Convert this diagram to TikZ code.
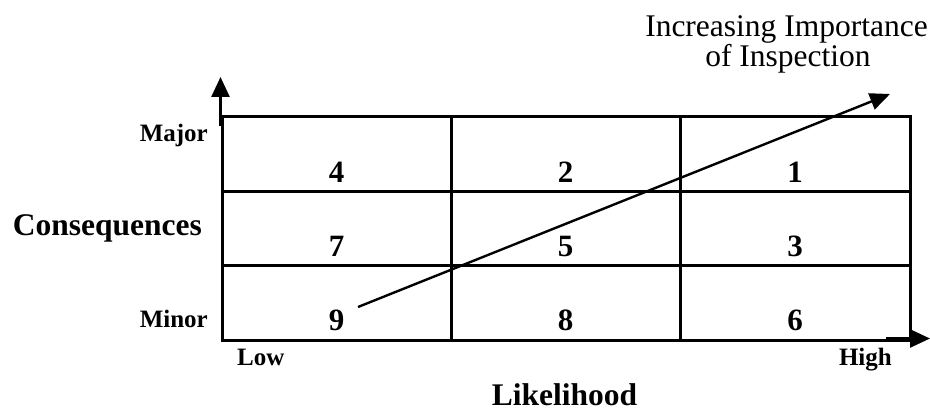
\documentclass[tikz,border=0pt]{standalone}
\usepackage{fontspec}
\setmainfont{Liberation Serif}
\usetikzlibrary{arrows.meta}
\tikzset{
  gridline/.style={line width=3pt},
  axisarrow/.style={line width=2.6pt,-{Triangle[length=20pt,width=18pt]}},
  diagarrow/.style={line width=2.4pt,-{Triangle[length=20pt,width=17pt]}},
  num/.style={anchor=base,inner sep=0pt,font=\fontsize{31}{34}\selectfont\bfseries},
  sidelbl/.style={inner sep=0pt,font=\fontsize{25}{30}\selectfont\bfseries},
  biglbl/.style={inner sep=0pt,font=\fontsize{31.5}{36}\selectfont\bfseries},
  toplbl/.style={anchor=base,inner sep=0pt,font=\fontsize{31.5}{34}\selectfont}
}
\begin{document}
\begin{tikzpicture}[x=1pt,y=-1pt]
\useasboundingbox (0,0) rectangle (930,412);
% grid
\draw[gridline] (222,116.5) rectangle (910,340);
\draw[gridline] (222,191) -- (910,191);
\draw[gridline] (222,265.5) -- (910,265.5);
\draw[gridline] (451,116.5) -- (451,340);
\draw[gridline] (680,116.5) -- (680,340);
% numbers
\node[num] (n4) at (336.5,182) {4};
\node[num] (n2) at (565.5,182) {2};
\node[num] (n1) at (795,182) {1};
\node[num] (n7) at (336.5,256) {7};
\node[num] (n5) at (565.5,256) {5};
\node[num] (n3) at (795,256) {3};
\node[num] (n9) at (336.5,330) {9};
\node[num] (n8) at (565.5,330) {8};
\node[num] (n6) at (795,330) {6};
% axes
\coordinate (ybot) at (220.5,126);
\coordinate (ytop) at (220.5,77);
\draw[axisarrow] (ybot) -- (ytop);
\coordinate (xleft) at (886,338.5);
\coordinate (xright) at (930,338.5);
\draw[axisarrow] (xleft) -- (xright);
% diagonal
\coordinate (dstart) at (358,307);
\coordinate (dend) at (890,94);
\draw[diagarrow] (dstart) -- (dend);
% labels
\node[sidelbl,anchor=base east] (major) at (208,141.7) {Major};
\node[sidelbl,anchor=base east] (minor) at (208,327) {Minor};
\node[biglbl,anchor=base east] (cons) at (202,235) {Consequences};
\node[sidelbl,anchor=base west] (low) at (237,365) {Low};
\node[sidelbl,anchor=base east] (high) at (892,365) {High};
\node[biglbl,anchor=base] (like) at (564.5,405) {Likelihood};
\node[toplbl] (top1) at (786.5,36.7) {Increasing Importance};
\node[toplbl] (top2) at (788,67) {of Inspection};
\end{tikzpicture}
\end{document}
